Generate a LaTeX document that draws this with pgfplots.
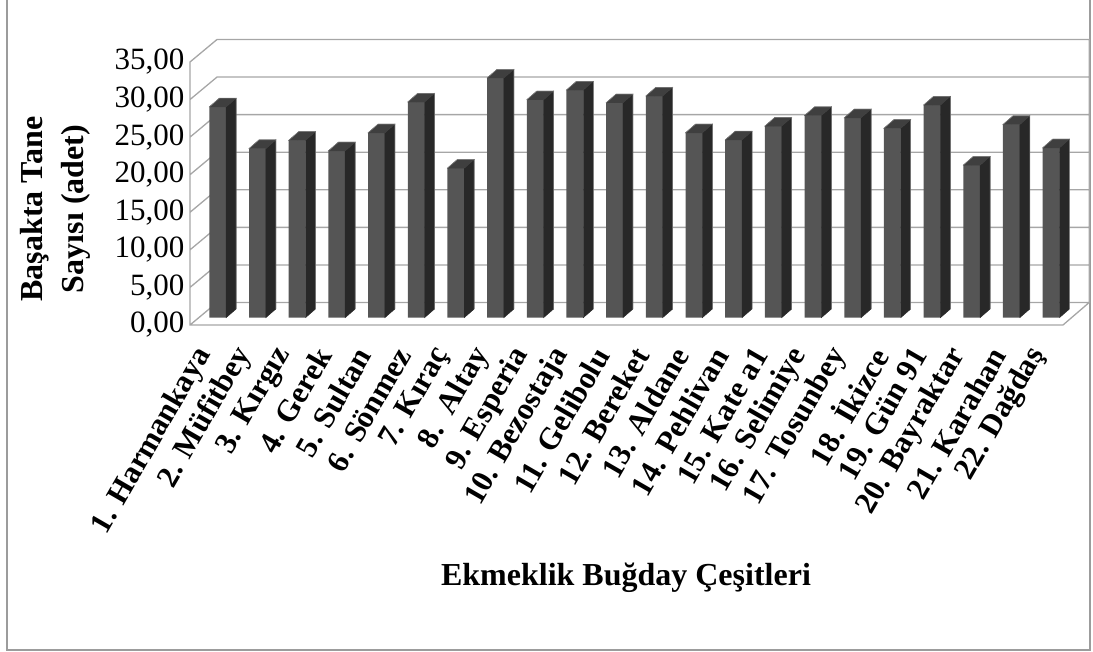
\documentclass[border=0pt]{standalone}
\usepackage{pgfplots}
\pgfplotsset{compat=1.18}
\usepackage{fontspec}
\setmainfont{Liberation Serif}
\definecolor{gridc}{HTML}{A6A6A6}
\definecolor{framec}{HTML}{9C9C9C}
\definecolor{front}{HTML}{555555}
\definecolor{sidec}{HTML}{282828}
\definecolor{topc}{HTML}{3F3F3F}
\pgfplotstableread{
i val
0 28.05
1 22.5
2 23.6
3 22.2
4 24.6
5 28.7
6 19.9
7 31.9
8 29.0
9 30.3
10 28.6
11 29.5
12 24.6
13 23.66
14 25.5
15 26.9
16 26.6
17 25.2
18 28.3
19 20.3
20 25.7
21 22.6
}\wheat
\begin{document}
\begin{tikzpicture}[x=1pt,y=1pt]
\useasboundingbox (0,0) rectangle (1093,651);
\draw[framec,line width=1.6pt] (7,660) -- (7,1) -- (1090,1) -- (1090,660);
\begin{axis}[
  at={(190pt,326pt)}, anchor=south west,
  scale only axis, width=873pt, height=263pt,
  xmin=-0.5, xmax=21.5, ymin=0, ymax=35,
  clip=false,
  separate axis lines, axis x line*=bottom, axis y line*=left,
  x axis line style={draw=none}, y axis line style={draw=none},
  major tick length=0pt,
  unbounded coords=jump,
  ytick={0,5,...,35},
  xtick={0,...,21},
  xticklabels={1. Harmankaya,2. Müfitbey,3. Kırgız,4. Gerek,5. Sultan,6. Sönmez,7. Kıraç,8.\ \ Altay,9. Esperia,10. Bezostaja,11. Gelibolu,12. Bereket,13. Aldane,14. Pehlivan,15. Kate a1,16. Selimiye,17. Tosunbey,18. İkizce,19. Gün 91,20. Bayraktar,21. Karahan,22. Dağdaş},
  yticklabel style={/pgf/number format/fixed,/pgf/number format/fixed zerofill,/pgf/number format/precision=2,/pgf/number format/use comma,/pgf/number format/assume math mode=true,font=\fontsize{31}{31}\selectfont,anchor=east,xshift=-2pt},
  xticklabel style={font=\fontsize{31}{31}\selectfont\bfseries,rotate=60,anchor=east,xshift=-21pt,yshift=-8.3pt},
  xlabel={Ekmeklik Buğday Çeşitleri},
  xlabel style={font=\fontsize{32}{32}\selectfont\bfseries,at={(axis description cs:0.4994,-0.962)},anchor=center},
  ylabel={Başakta Tane\\Sayısı (adet)},
  ylabel style={font=\fontsize{32}{41}\selectfont\bfseries,align=center,at={(axis description cs:-0.1546,0.441)},anchor=center},
]
% walls: front edge, then the lines on the side wall and the back wall
\addplot[gridc,line width=1.3pt,no marks] coordinates {
(-0.5,0)(0.18,2.994)(22.16,2.994)(21.5,0)(-0.5,0)(-0.5,35)(0.18,37.994)(22.16,37.994)(22.16,2.994) (0,nan)
(-0.5,5)(0.18,7.994)(22.16,7.994) (0,nan)
(-0.5,10)(0.18,12.994)(22.16,12.994) (0,nan)
(-0.5,15)(0.18,17.994)(22.16,17.994) (0,nan)
(-0.5,20)(0.18,22.994)(22.16,22.994) (0,nan)
(-0.5,25)(0.18,27.994)(22.16,27.994) (0,nan)
(-0.5,30)(0.18,32.994)(22.16,32.994)
};
% front faces
\addplot[ybar,bar width=16.8pt,bar shift=7.9pt,yshift=7.3pt,fill=front,draw=none] table[x=i,y=val]{\wheat};
% side and top faces, sized by each value
\addplot[scatter,only marks,mark=*,mark size=0pt,mark options={draw=none,fill=none},
  xshift=7.9pt,yshift=7.3pt,
  visualization depends on={rawy \as \barval},
  scatter/@pre marker code/.code={%
    \pgfmathsetmacro\barh{\barval*7.514}%
    \fill[sidec] (8.4pt,0pt) -- (18.4pt,8.7pt) -- (18.4pt,{(8.7-\barh)*1pt}) -- (8.4pt,{-\barh*1pt}) -- cycle;
    \fill[topc] (-8.4pt,0pt) -- (8.4pt,0pt) -- (18.4pt,8.7pt) -- (1.6pt,8.7pt) -- cycle;
    \draw[gray,line width=0.5pt] (-8.4pt,0pt) -- (1.6pt,8.7pt) -- (18.4pt,8.7pt) -- (18.4pt,{(8.7-\barh)*1pt});
    \begin{scope}},
  scatter/@post marker code/.code={\end{scope}},
] table[x=i,y=val]{\wheat};
\end{axis}
\end{tikzpicture}
\end{document}
